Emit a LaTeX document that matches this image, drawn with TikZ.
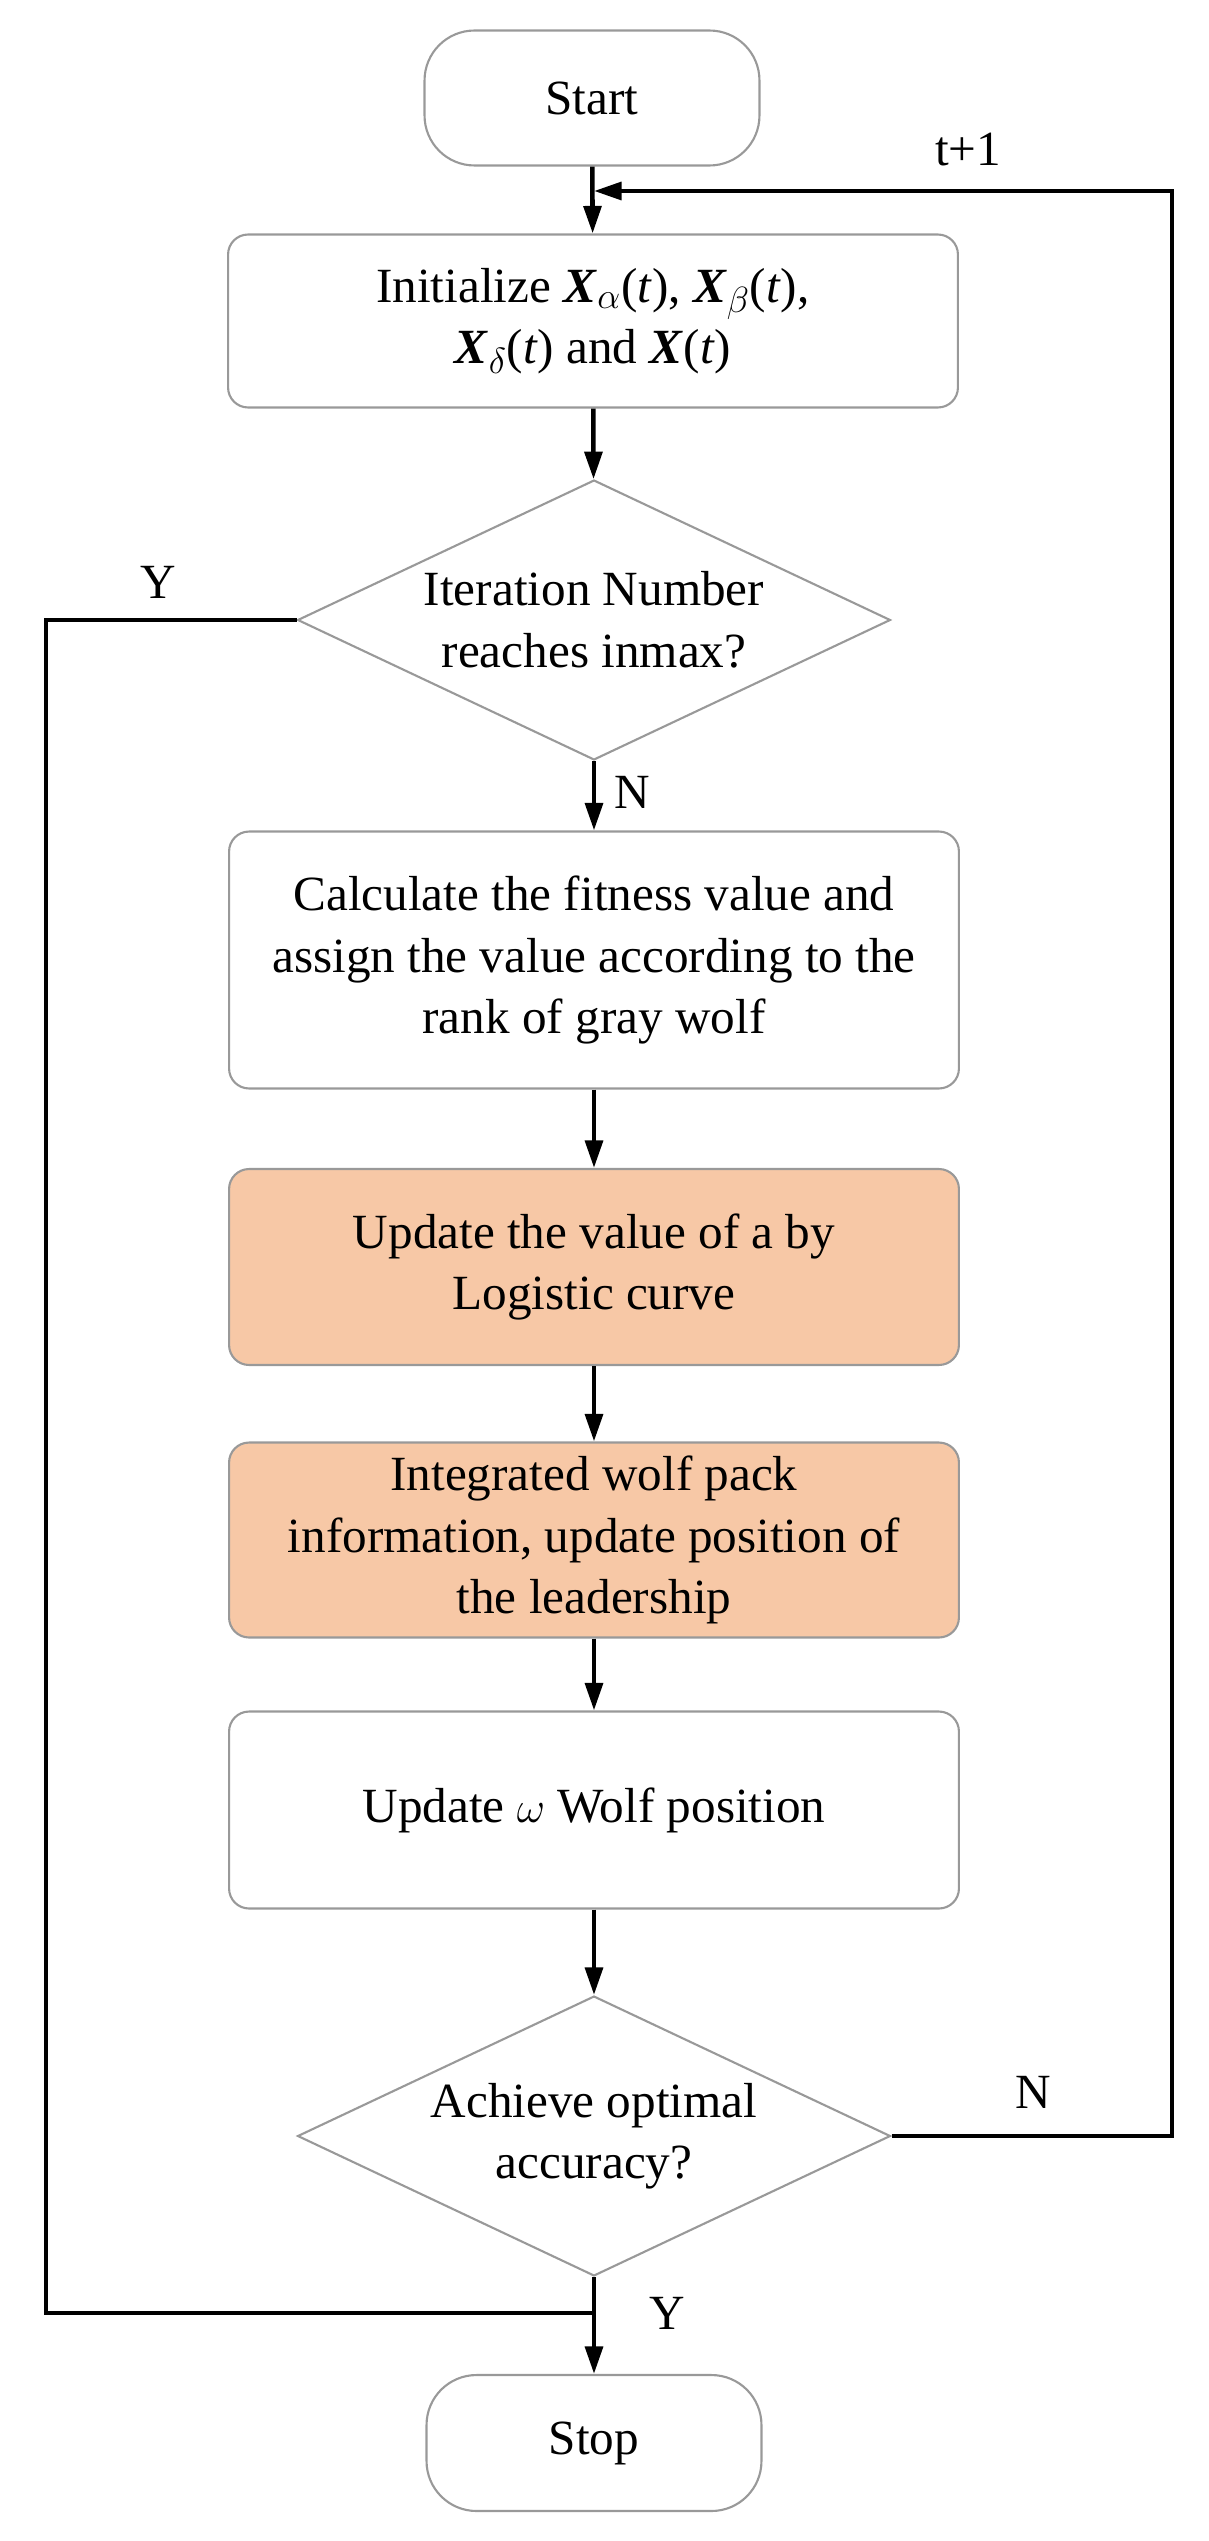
\documentclass[tikz,border=0pt]{standalone}
\usepackage{fontspec}
\setmainfont{Liberation Serif}
\usepackage{amsmath}
\usetikzlibrary{shapes.geometric,arrows.meta}
\definecolor{boxorange}{RGB}{247,200,166}
\newcommand{\bX}{\textbf{\textit{X}}}
\tikzset{
  box/.style={draw=gray!80, line width=1.2pt, rounded corners=0.4cm, align=center,
    minimum width=14.6cm},
  term/.style={draw=gray!80, line width=1.2pt, rounded corners=1cm, align=center,
    minimum width=6.7cm},
  dec/.style={draw=gray!80, line width=1.2pt, diamond, inner sep=0pt,
    minimum width=11.86cm, minimum height=5.6cm},
  flow/.style={line width=2.6pt, -{Triangle[length=0.55cm,width=0.35cm]}},
  link/.style={line width=2.6pt}
}
\begin{document}
\begin{tikzpicture}[x=0.02cm,y=-0.02cm, every node/.style={font=\fontsize{28}{35}\selectfont}]
        \useasboundingbox (0,0) rectangle (1209,2541);
        \node[term, minimum height=2.7cm] (start) at (592,98) {Start};
        \node[box, minimum height=3.46cm] (init) at (593,321) {Initialize \bX$_{\alpha}$(\textit{t}), \bX$_{\beta}$(\textit{t}),\\ \bX$_{\delta}$(\textit{t}) and \bX(\textit{t})};
        \node[dec] (iter) at (594,620) {};
        \node[align=center] at (iter.center) {Iteration Number\\ reaches inmax?};
        \node[box, minimum height=5.14cm] (calc) at (594,960) {Calculate the fitness value and\\ assign the value according to the\\ rank of gray wolf};
        \node[box, fill=boxorange, minimum height=3.92cm] (upa) at (594,1267) {Update the value of a by\\ Logistic curve};
        \node[box, fill=boxorange, minimum height=3.9cm] (integ) at (594,1540) {Integrated wolf pack\\ information, update position of\\ the leadership};
        \node[box, minimum height=3.94cm] (upw) at (594,1810) {Update $\omega$ Wolf position};
        \node[dec] (acc) at (594,2136) {};
        \node[align=center] at (acc.center) {Achieve optimal\\ accuracy?};
        \node[term, minimum height=2.72cm] (stop) at (594,2443) {Stop};
        \coordinate (back) at (594,191);
        \coordinate (right) at (1172,2136);
        \coordinate (left) at (46,620);
        \coordinate (join) at (594,2313);
        % main flow
        \draw[flow] (start) -- (init);
        \draw[flow] (init) -- (iter);
        \draw[flow] (iter.south) -- (calc) node[pos=0.45, right=0.25cm] {N};
        \draw[flow] (calc) -- (upa);
        \draw[flow] (upa) -- (integ);
        \draw[flow] (integ) -- (upw);
        \draw[flow] (upw) -- (acc);
        \draw[flow] (acc.south) -- (stop);
        % loops
        \draw[flow] (acc.east) -- (right) |- (back);
        \draw[link] (iter.west) -- (left) |- (join);
        \node at (968,150) {t+1};
        \node at (158,582) {Y};
        \node at (1033,2092) {N};
        \node at (667,2313) {Y};
\end{tikzpicture}
\end{document}
